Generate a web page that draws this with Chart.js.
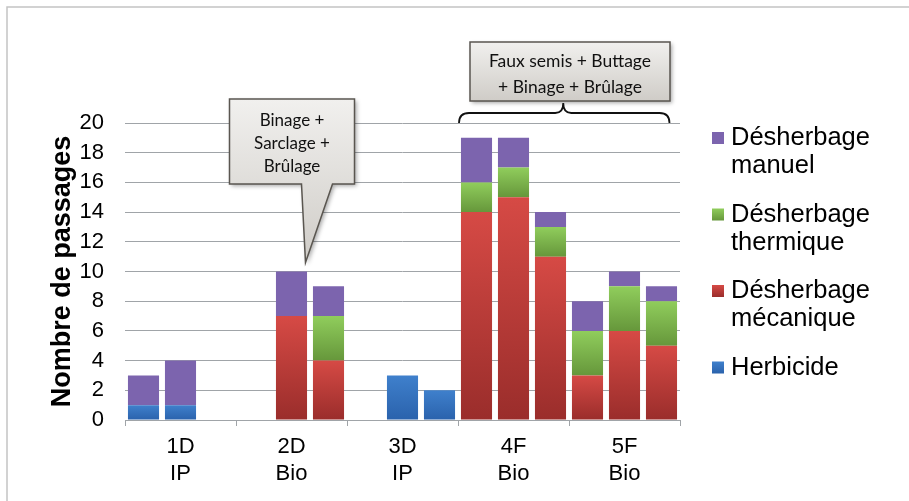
<!DOCTYPE html>
<html>
<head>
<meta charset="utf-8">
<script src="https://cdn.jsdelivr.net/npm/chart.js@4.4.0/dist/chart.umd.min.js"></script>
<style>
html,body{margin:0;padding:0;background:#fff;}
#wrap{width:909px;height:501px;position:relative;}
</style>
</head>
<body>
<div id="wrap"><canvas id="c" width="909" height="501"></canvas></div>
<script>
// 15 bar slots (3 per group); empty slots are null
const slots = ['','','','','','','','','','','','','','',''];
const groupLabels = [['1D','IP'],['2D','Bio'],['3D','IP'],['4F','Bio'],['5F','Bio']];
const herbicide  = [1, 1, null, null, null, null, null, 3, 2, null, null, null, null, null, null];
const mecanique  = [null, null, null, null, 7, 4, null, null, null, 14, 15, 11, 3, 6, 5];
const thermique  = [null, null, null, null, null, 3, null, null, null, 2, 2, 2, 3, 3, 3];
const manuel     = [2, 3, null, null, 3, 2, null, null, null, 3, 2, 1, 2, 1, 1];
const seriesNames = ['Herbicide', ['Désherbage','mécanique'], ['Désherbage','thermique'], ['Désherbage','manuel']];
const yTicks = [0,2,4,6,8,10,12,14,16,18,20];
const callout1 = ['Binage +','Sarclage +','Brûlage'];
const callout2 = ['Faux semis + Buttage','+ Binage + Brûlage'];

const seriesData = [herbicide, mecanique, thermique, manuel];
const gradStops = [
  ['#3f80cc','#2a62ac'],
  ['#d64a45','#9a2d2b'],
  ['#90cd5c','#66973b'],
  ['#7c64ae','#7c64ae']
];

function baseOf(ds, i){
  let b = 0;
  for(let k=0;k<ds;k++){ const v = seriesData[k][i]; if(v) b += v; }
  return b;
}
function segFill(ds){
  return function(ctx){
    const chart = ctx.chart;
    const y = chart.scales && chart.scales.y;
    const i = ctx.dataIndex;
    if(!y || ctx.type !== 'data') return gradStops[ds][0];
    const v = seriesData[ds][i] || 0;
    const b = baseOf(ds, i);
    const top = y.getPixelForValue(b + v), bot = y.getPixelForValue(b);
    if(!isFinite(top) || !isFinite(bot) || top === bot) return gradStops[ds][0];
    const g = chart.ctx.createLinearGradient(0, top, 0, bot);
    g.addColorStop(0, gradStops[ds][0]);
    g.addColorStop(1, gradStops[ds][1]);
    return g;
  };
}

const datasets = seriesData.map((arr, k) => ({
  label: Array.isArray(seriesNames[k]) ? seriesNames[k].join(' ') : seriesNames[k],
  lines: Array.isArray(seriesNames[k]) ? seriesNames[k] : [seriesNames[k]],
  data: arr,
  backgroundColor: segFill(k),
  legendColor: gradStops[k],
  borderWidth: 0,
  stack: 's',
  xAxisID: 'x',
  yAxisID: 'y',
  categoryPercentage: 0.84,
  barPercentage: 1.0
}));

const FONT = "'Liberation Sans', Arial, sans-serif";
const CALLFONT = "Lato, 'Open Sans', sans-serif";

function drawBox(ctx, x0, y0, x1, y1, pointer){
  ctx.save();
  ctx.shadowColor = 'rgba(0,0,0,0.35)';
  ctx.shadowBlur = 4; ctx.shadowOffsetX = 2; ctx.shadowOffsetY = 2;
  ctx.beginPath();
  ctx.moveTo(x0, y0); ctx.lineTo(x1, y0); ctx.lineTo(x1, y1);
  if(pointer){
    ctx.lineTo(pointer.br, y1); ctx.lineTo(pointer.tx, pointer.ty); ctx.lineTo(pointer.bl, y1);
  }
  ctx.lineTo(x0, y1); ctx.closePath();
  const g = ctx.createLinearGradient(0, y0, 0, pointer ? pointer.ty : y1);
  g.addColorStop(0, '#f1f0ee'); g.addColorStop(1, '#cfccc7');
  ctx.fillStyle = g; ctx.fill();
  ctx.shadowColor = 'transparent';
  ctx.strokeStyle = '#5a5650'; ctx.lineWidth = 1.5; ctx.stroke();
  ctx.restore();
}

const annot = {
  id: 'annot',
  beforeDraw(chart){
    const ctx = chart.ctx;
    ctx.save();
    ctx.fillStyle = '#fff'; ctx.fillRect(0,0,chart.width,chart.height);
    ctx.strokeStyle = '#c4c4c4'; ctx.lineWidth = 1.5;
    ctx.strokeRect(7, 7, chart.width + 10, chart.height + 10);
    ctx.restore();
  },
  afterDraw(chart){
    const ctx = chart.ctx, x = chart.scales.x, y = chart.scales.y, ca = chart.chartArea;
    const slotW = x.getPixelForValue(1) - x.getPixelForValue(0);
    // callout 1 (2D group)
    const bx0 = x.getPixelForValue(2) + 12, bx1 = x.getPixelForValue(5) + 26;
    const by0 = ca.top - 24, by1 = ca.top + 61;
    drawBox(ctx, bx0, by0, bx1, by1, {bl: x.getPixelForValue(4)+10, br: x.getPixelForValue(4)+41, tx: x.getPixelForValue(4)+14, ty: y.getPixelForValue(10.6)});
    ctx.save();
    ctx.fillStyle = '#111'; ctx.font = "17px " + CALLFONT; ctx.textAlign = 'center'; ctx.textBaseline = 'middle';
    const cx1 = (bx0 + bx1)/2;
    callout1.forEach((t, i) => ctx.fillText(t, cx1, by0 + 22 + i*23));
    ctx.restore();
    // callout 2 (4F+5F)
    const b2x0 = x.getPixelForValue(9) - 6.5, b2x1 = x.getPixelForValue(14) + 8.5;
    const b2y0 = ca.top - 81, b2y1 = ca.top - 22;
    drawBox(ctx, b2x0, b2y0, b2x1, b2y1, null);
    ctx.save();
    ctx.fillStyle = '#111'; ctx.font = "17.5px " + CALLFONT; ctx.textAlign = 'center'; ctx.textBaseline = 'middle';
    const cx2 = (b2x0 + b2x1)/2;
    callout2.forEach((t, i) => ctx.fillText(t, cx2, b2y0 + 19 + i*26));
    ctx.restore();
    // brace
    const X0 = x.getPixelForValue(9) - 0.5*slotW + 1, X1 = x.getPixelForValue(14) + 8;
    const XM = (X0 + X1)/2 - 1;
    const yb = ca.top, ym = ca.top - 10, yt = ca.top - 20;
    ctx.save();
    ctx.strokeStyle = '#111'; ctx.lineWidth = 1.8;
    ctx.beginPath();
    ctx.moveTo(X0, yb);
    ctx.quadraticCurveTo(X0, ym, X0 + 10, ym);
    ctx.lineTo(XM - 8, ym);
    ctx.quadraticCurveTo(XM, ym, XM, yt);
    ctx.quadraticCurveTo(XM, ym, XM + 8, ym);
    ctx.lineTo(X1 - 10, ym);
    ctx.quadraticCurveTo(X1, ym, X1, yb);
    ctx.stroke();
    ctx.restore();
    // legend (reverse order)
    ctx.save();
    ctx.font = "25.5px " + FONT; ctx.textBaseline = 'middle'; ctx.textAlign = 'left';
    const lx = ca.right + 32;
    let ly = ca.top + 15;
    const order = [3,2,1,0];
    order.forEach(k => {
      const d = chart.data.datasets[k];
      const g = ctx.createLinearGradient(0, ly-6, 0, ly+6);
      g.addColorStop(0, d.legendColor[0]); g.addColorStop(1, d.legendColor[1]);
      ctx.fillStyle = g;
      ctx.fillRect(lx, ly - 6, 12, 12);
      ctx.fillStyle = '#000';
      d.lines.forEach((t, j) => ctx.fillText(t, lx + 19, ly + j*28));
      ly += 76.5;
    });
    ctx.restore();
  }
};

new Chart(document.getElementById('c'), {
  type: 'bar',
  data: { labels: slots, datasets },
  options: {
    responsive: false,
    animation: false,
    devicePixelRatio: 1,
    layout: { padding: { left: 0, right: 229, top: 123, bottom: 0 } },
    plugins: { legend: { display: false }, tooltip: { enabled: false } },
    scales: {
      x: { type: 'category', display: false, stacked: true, offset: true },
      x2: {
        type: 'category', labels: groupLabels, position: 'bottom', offset: true,
        grid: { drawOnChartArea: false, offset: true, color: '#a0a4a8', tickLength: 6, lineWidth: 1 },
        border: { color: '#a0a4a8', width: 1 },
        ticks: { color: '#000', font: { family: FONT, size: 22, lineHeight: 1.25 }, padding: 7, maxRotation: 0, autoSkip: false },
        afterFit(s){ s.height = 81; }
      },
      y: {
        stacked: true, min: 0, max: 20,
        afterBuildTicks(s){ s.ticks = yTicks.map(v => ({value: v})); },
        grid: { color: '#a0a4a8', lineWidth: 1, drawTicks: false },
        border: { display: false },
        ticks: { color: '#000', font: { family: FONT, size: 22 }, padding: 21 },
        title: { display: true, text: 'Nombre de passages', color: '#000', font: { family: FONT, size: 27, weight: 'bold' }, padding: { top: 46, bottom: 0 } },
        afterFit(s){ s.width = 125; }
      }
    }
  },
  plugins: [annot]
});
</script>
</body>
</html>
